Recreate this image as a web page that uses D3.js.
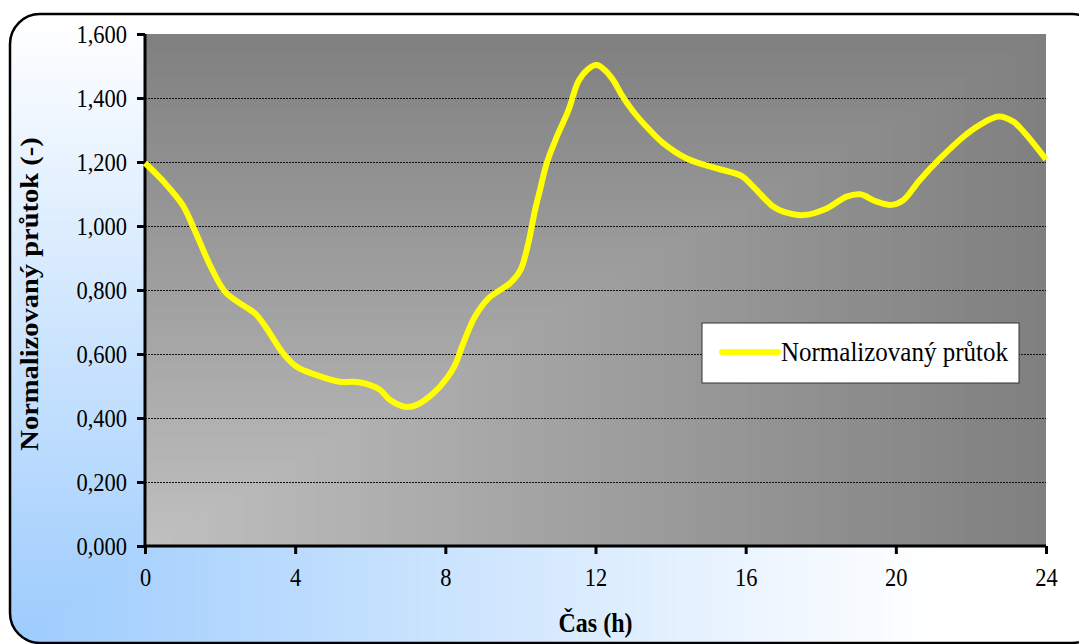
<!DOCTYPE html>
<html>
<head>
<meta charset="utf-8">
<script src="https://cdn.jsdelivr.net/npm/d3@7"></script>
<style>
  body { margin: 0; background: #fff; }
  text { font-family: "Liberation Serif", "Times New Roman", serif; fill: #000; }
</style>
</head>
<body>
<div id="chart"></div>
<script>
'use strict'

// hodiny (h) a normalizovaný průtok (-)
const hours = [0, 0.5, 1, 1.3, 1.75, 2.13, 2.53, 2.93, 3.24, 3.68, 4.04, 4.57, 5.19, 5.55, 6, 6.26, 6.53,
  6.93, 7.24, 7.68, 8.04, 8.26, 8.45, 8.79, 9.15, 9.72, 10, 10.21, 10.39, 10.52, 10.7, 10.97, 11.28, 11.54,
  11.77, 12.03, 12.25, 12.47, 12.7, 13.01, 13.36, 13.81, 14.43, 15.23, 15.9, 16.2, 16.74, 17, 17.54, 18.16,
  18.69, 19.05, 19.49, 19.89, 20.2, 20.64, 21.18, 21.8, 22.24, 22.73, 23.13, 23.4, 24]
const flow = [1.197, 1.138, 1.066, 0.993, 0.873, 0.795, 0.758, 0.727, 0.68, 0.602, 0.56, 0.534, 0.513, 0.513,
  0.503, 0.488, 0.456, 0.435, 0.441, 0.477, 0.524, 0.566, 0.625, 0.717, 0.774, 0.821, 0.862, 0.946, 1.05,
  1.112, 1.196, 1.279, 1.362, 1.451, 1.487, 1.503, 1.487, 1.456, 1.409, 1.357, 1.31, 1.258, 1.211, 1.18,
  1.156, 1.123, 1.06, 1.045, 1.034, 1.055, 1.092, 1.099, 1.076, 1.066, 1.081, 1.144, 1.211, 1.279, 1.316,
  1.342, 1.326, 1.295, 1.208]
const xTicks = [0, 4, 8, 12, 16, 20, 24]
const yTicks = [0, 0.2, 0.4, 0.6, 0.8, 1.0, 1.2, 1.4, 1.6]
const seriesName = 'Normalizovaný průtok'

const width = 1079
const height = 644
const plot = { left: 145, top: 34, right: 1046, bottom: 546 }
const stretch = 1.12 // the original text is a bit taller than wide

const svg = d3.select('#chart')
  .append('svg')
  .attr('width', width)
  .attr('height', height)

// outer frame with corner gradient (light blue -> white)
const frame = { x: 10, y: 14, w: 1092, h: 629 }
svg.append('clipPath').attr('id', 'frameClip')
  .append('rect')
  .attr('x', frame.x).attr('y', frame.y)
  .attr('width', frame.w).attr('height', frame.h)
  .attr('rx', 30)

// rectangular "from corner" gradient, drawn as nested rects from the bottom-left corner
function cornerGradient (g, x0, y0, w, h, c0, c1, steps) {
  const col = d3.interpolateRgb(c0, c1)
  const ks = d3.range(steps, 0, -1).map(i => i / steps)
  g.selectAll('rect')
    .data(ks)
    .enter()
    .append('rect')
    .attr('x', x0)
    .attr('y', k => y0 + h - k * h)
    .attr('width', k => k * w)
    .attr('height', k => k * h)
    .attr('fill', k => col(k))
}

cornerGradient(svg.append('g').attr('clip-path', 'url(#frameClip)'),
  frame.x, frame.y, frame.w * 0.85, frame.h, '#9ccbfd', '#ffffff', 120)

svg.append('rect')
  .attr('x', frame.x).attr('y', frame.y)
  .attr('width', frame.w).attr('height', frame.h)
  .attr('rx', 30)
  .attr('fill', 'none')
  .attr('stroke', '#000')
  .attr('stroke-width', 2.5)

const x = d3.scaleLinear().domain([0, 24]).range([plot.left, plot.right])
const y = d3.scaleLinear().domain([0, 1.6]).range([plot.bottom, plot.top])

// plot area gradient (light gray bottom-left -> dark gray)
cornerGradient(svg.append('g'), plot.left, plot.top,
  plot.right - plot.left, plot.bottom - plot.top, '#c0c0c0', '#808080', 100)

// gridlines
svg.append('g')
  .selectAll('line')
  .data(yTicks.filter(v => v > 0 && v < 1.6))
  .enter()
  .append('line')
  .attr('x1', plot.left).attr('x2', plot.right)
  .attr('y1', d => y(d) + 0.5).attr('y2', d => y(d) + 0.5)
  .attr('stroke', '#111')
  .attr('stroke-width', 1)
  .attr('stroke-dasharray', '2,1')

const fmt = v => d3.format('.3f')(v).replace('.', ',')

// axes
const yAxis = svg.append('g')
  .attr('transform', `translate(${plot.left},0)`)
  .call(d3.axisLeft(y).tickValues(yTicks).tickFormat(fmt).tickSize(8).tickPadding(10))
const xAxis = svg.append('g')
  .attr('transform', `translate(0,${plot.bottom})`)
  .call(d3.axisBottom(x).tickValues(xTicks).tickFormat(d3.format('d')).tickSize(8).tickPadding(12))

for (const ax of [xAxis, yAxis]) {
  ax.select('.domain').attr('stroke', '#000').attr('stroke-width', 3)
  ax.selectAll('.tick line').attr('stroke', '#000').attr('stroke-width', 3)
  ax.selectAll('.tick text')
    .style('font-family', '"Liberation Serif", serif')
    .style('font-size', '22.5px')
    .attr('fill', '#000')
    .attr('transform', `scale(1,${stretch})`)
}
xAxis.select('.domain').attr('d', `M${plot.left},0H${plot.right}`)
yAxis.select('.domain').attr('d', `M0,${plot.bottom}V${plot.top}`)

// the series
const line = d3.line()
  .x((d, i) => x(hours[i]))
  .y(d => y(d))
  .curve(d3.curveCatmullRom.alpha(0.5))

svg.append('path')
  .datum(flow)
  .attr('d', line)
  .attr('fill', 'none')
  .attr('stroke', '#ffff00')
  .attr('stroke-width', 6)
  .attr('stroke-linejoin', 'round')

// legend
const legend = svg.append('g').attr('transform', 'translate(702,323)')
legend.append('rect')
  .attr('width', 317).attr('height', 60)
  .attr('fill', '#fff')
  .attr('stroke', '#333')
  .attr('stroke-width', 1)
legend.append('line')
  .attr('x1', 20).attr('x2', 76)
  .attr('y1', 29).attr('y2', 29)
  .attr('stroke', '#ffff00')
  .attr('stroke-width', 6)
  .attr('stroke-linecap', 'round')
legend.append('text')
  .attr('transform', `translate(79,38) scale(1,${stretch})`)
  .style('font-size', '25px')
  .text(seriesName)

// axis titles
svg.append('text')
  .attr('transform', `translate(38,${(plot.top + plot.bottom) / 2 + 4}) scale(1,1.14) rotate(-90)`)
  .attr('text-anchor', 'middle')
  .style('font-size', '25px')
  .style('font-weight', 'bold')
  .text('Normalizovaný průtok (-)')

svg.append('text')
  .attr('transform', `translate(${(plot.left + plot.right) / 2},632) scale(1,${stretch})`)
  .attr('text-anchor', 'middle')
  .style('font-size', '24px')
  .style('font-weight', 'bold')
  .text('Čas (h)')
</script>
</body>
</html>
